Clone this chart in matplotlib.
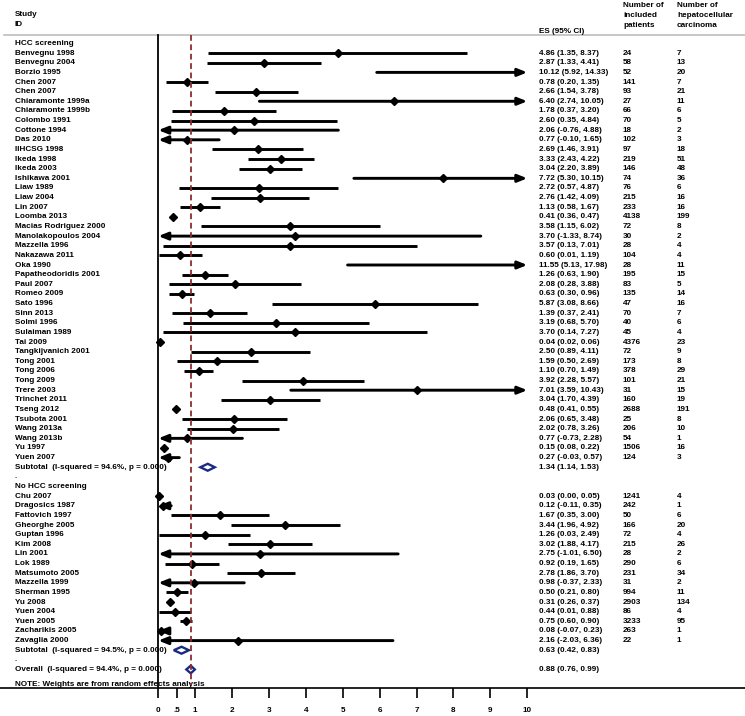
import matplotlib
matplotlib.use("Agg")
import matplotlib.pyplot as plt
from matplotlib.transforms import blended_transform_factory

plt.rcParams["font.family"] = ["Liberation Sans", "DejaVu Sans"]
plt.rcParams["font.weight"] = "bold"

# HCC screening group
screen_names = ["Benvegnu 1998", "Benvegnu 2004", "Borzio 1995", "Chen 2007", "Chen 2007",
                "Chiaramonte 1999a", "Chiaramonte 1999b", "Colombo 1991", "Cottone 1994", "Das 2010",
                "IIHCSG 1998", "Ikeda 1998", "Ikeda 2003", "Ishikawa 2001", "Liaw 1989", "Liaw 2004",
                "Lin 2007", "Loomba 2013", "Macias Rodriguez 2000", "Manolakopoulos 2004",
                "Mazzella 1996", "Nakazawa 2011", "Oka 1990", "Papatheodoridis 2001", "Paul 2007",
                "Romeo 2009", "Sato 1996", "Sinn 2013", "Solmi 1996", "Sulaiman 1989", "Tai 2009",
                "Tangkijvanich 2001", "Tong 2001", "Tong 2006", "Tong 2009", "Trere 2003",
                "Trinchet 2011", "Tseng 2012", "Tsubota 2001", "Wang 2013a", "Wang 2013b",
                "Yu 1997", "Yuen 2007"]
screen_es = [4.86, 2.87, 10.12, 0.78, 2.66, 6.40, 1.78, 2.60, 2.06, 0.77, 2.69, 3.33, 3.04, 7.72,
             2.72, 2.76, 1.13, 0.41, 3.58, 3.70, 3.57, 0.60, 11.55, 1.26, 2.08, 0.63, 5.87, 1.39,
             3.19, 3.70, 0.04, 2.50, 1.59, 1.10, 3.92, 7.01, 3.04, 0.48, 2.06, 2.02, 0.77, 0.15, 0.27]
screen_lo = [1.35, 1.33, 5.92, 0.20, 1.54, 2.74, 0.37, 0.35, -0.76, -0.10, 1.46, 2.43, 2.20, 5.30,
             0.57, 1.42, 0.58, 0.36, 1.15, -1.33, 0.13, 0.01, 5.13, 0.63, 0.28, 0.30, 3.08, 0.37,
             0.68, 0.14, 0.02, 0.89, 0.50, 0.70, 2.28, 3.59, 1.70, 0.41, 0.65, 0.78, -0.73, 0.08, -0.03]
screen_hi = [8.37, 4.41, 14.33, 1.35, 3.78, 10.05, 3.20, 4.84, 4.88, 1.65, 3.91, 4.22, 3.89, 10.15,
             4.87, 4.09, 1.67, 0.47, 6.02, 8.74, 7.01, 1.19, 17.98, 1.90, 3.88, 0.96, 8.66, 2.41,
             5.70, 7.27, 0.06, 4.11, 2.69, 1.49, 5.57, 10.43, 4.39, 0.55, 3.48, 3.26, 2.28, 0.22, 0.57]
screen_pat = [24, 58, 52, 141, 93, 27, 66, 70, 18, 102, 97, 219, 146, 74, 76, 215, 233, 4138, 72, 30,
              28, 104, 28, 195, 83, 135, 47, 70, 40, 45, 4376, 72, 173, 378, 101, 31, 160, 2688, 25,
              206, 54, 1506, 124]
screen_hcc = [7, 13, 20, 7, 21, 11, 6, 5, 2, 3, 18, 51, 48, 36, 6, 16, 16, 199, 8, 2, 4, 4, 11, 15, 5,
              14, 16, 7, 6, 4, 23, 9, 8, 29, 21, 15, 19, 191, 8, 10, 1, 16, 3]
screen_sub = (1.34, 1.14, 1.53, "94.6%")

# No HCC screening group
noscreen_names = ["Chu 2007", "Dragosics 1987", "Fattovich 1997", "Gheorghe 2005", "Guptan 1996",
                  "Kim 2008", "Lin 2001", "Lok 1989", "Matsumoto 2005", "Mazzella 1999",
                  "Sherman 1995", "Yu 2008", "Yuen 2004", "Yuen 2005", "Zacharikis 2005", "Zavaglia 2000"]
noscreen_es = [0.03, 0.12, 1.67, 3.44, 1.26, 3.02, 2.75, 0.92, 2.78, 0.98, 0.50, 0.31, 0.44, 0.75, 0.08, 2.16]
noscreen_lo = [0.00, -0.11, 0.35, 1.96, 0.03, 1.88, -1.01, 0.19, 1.86, -0.37, 0.21, 0.26, 0.01, 0.60, -0.07, -2.03]
noscreen_hi = [0.05, 0.35, 3.00, 4.92, 2.49, 4.17, 6.50, 1.65, 3.70, 2.33, 0.80, 0.37, 0.88, 0.90, 0.23, 6.36]
noscreen_pat = [1241, 242, 50, 166, 72, 215, 28, 290, 231, 31, 994, 2903, 86, 3233, 263, 22]
noscreen_hcc = [4, 1, 6, 20, 4, 26, 2, 6, 34, 2, 11, 134, 4, 95, 1, 1]
noscreen_sub = (0.63, 0.42, 0.83, "94.5%")

overall = (0.88, 0.76, 0.99, "94.4%")

xticks = [0, 0.5, 1, 2, 3, 4, 5, 6, 7, 8, 9, 10]
xticklabels = ["0", ".5", "1", "2", "3", "4", "5", "6", "7", "8", "9", "10"]
XMAX = 10

FS = 5.9
DIAM_COL = "#1c2b82"
REF_COL = "#8b2e2e"
W = 745.0


def ci_text(es, lo, hi):
    return f"{es:.2f} ({lo:.2f}, {hi:.2f})"


fig = plt.figure(figsize=(7.45, 7.16), dpi=100)
ax = fig.add_axes([0, 0, 1, 1])
ax.set_xlim(-4.29, 15.9)
ax.set_ylim(69.83, -4.517)
tr = blended_transform_factory(ax.transAxes, ax.transData)

x_lab, x_es, x_pat, x_hcc = 15 / W, 539 / W, 623 / W, 677 / W


def study_row(y, name, es, lo, hi, pat, hcc):
    ax.text(x_lab, y, name, transform=tr, va="center", fontsize=FS)
    ax.text(x_es, y, ci_text(es, lo, hi), transform=tr, va="center", fontsize=FS)
    ax.text(x_pat, y, str(pat), transform=tr, va="center", fontsize=FS)
    ax.text(x_hcc, y, str(hcc), transform=tr, va="center", fontsize=FS)
    lo_c, hi_c = max(lo, 0), min(hi, XMAX)
    if lo < 0 or hi > XMAX:
        style = {(True, True): "<|-|>", (True, False): "<|-", (False, True): "-|>"}[(lo < 0, hi > XMAX)]
        ax.annotate("", xy=(hi_c, y), xytext=(lo_c, y),
                    arrowprops=dict(arrowstyle=style + ",head_length=0.55,head_width=0.22",
                                    lw=2.1, color="black", shrinkA=0, shrinkB=0,
                                    mutation_scale=10), zorder=3)
    else:
        ax.plot([lo_c, hi_c], [y, y], color="black", lw=2.1, solid_capstyle="butt", zorder=3)
    # point estimates beyond the plotted range are not drawn
    if 0 <= es <= XMAX:
        ax.plot(es, y, marker="D", ms=4.0, color="black", zorder=4)


def pooled_row(y, label, es, lo, hi, i2, h=0.36):
    ax.text(x_lab, y, f"{label}  (I-squared = {i2}, p = 0.000)", transform=tr, va="center", fontsize=FS)
    ax.text(x_es, y, ci_text(es, lo, hi), transform=tr, va="center", fontsize=FS)
    ax.fill([lo, es, hi, es], [y, y - h, y, y + h], facecolor="white", edgecolor=DIAM_COL,
            lw=1.7, zorder=4)


row = 0
ax.text(x_lab, row, "HCC screening", transform=tr, va="center", fontsize=FS)
row += 1
for i in range(len(screen_names)):
    study_row(row, screen_names[i], screen_es[i], screen_lo[i], screen_hi[i], screen_pat[i], screen_hcc[i])
    row += 1
pooled_row(row, "Subtotal", *screen_sub)
row += 1
ax.text(x_lab, row, ".", transform=tr, va="center", fontsize=FS)
row += 1
ax.text(x_lab, row, "No HCC screening", transform=tr, va="center", fontsize=FS)
row += 1
for i in range(len(noscreen_names)):
    study_row(row, noscreen_names[i], noscreen_es[i], noscreen_lo[i], noscreen_hi[i],
              noscreen_pat[i], noscreen_hcc[i])
    row += 1
pooled_row(row, "Subtotal", *noscreen_sub)
row += 1
ax.text(x_lab, row, ".", transform=tr, va="center", fontsize=FS)
row += 1
pooled_row(row, "Overall", *overall, h=0.4)
note_y = row + 1.6
axis_y = row + 1.9
ax.text(x_lab, note_y, "NOTE: Weights are from random effects analysis", transform=tr,
        va="center", fontsize=FS)

# header
top_y = -0.88
ax.text(x_lab, -2.96, "Study", transform=tr, va="center", fontsize=FS)
ax.text(x_lab, -1.97, "ID", transform=tr, va="center", fontsize=FS)
ax.text(x_es, -1.23, "ES (95% CI)", transform=tr, va="center", fontsize=FS)
for yy, a, b in zip([-3.93, -2.93, -1.92], ["Number of", "included", "patients"],
                    ["Number of", "hepatocellular", "carcinoma"]):
    ax.text(x_pat, yy, a, transform=tr, va="center", fontsize=FS)
    ax.text(x_hcc, yy, b, transform=tr, va="center", fontsize=FS)
ax.axhline(top_y, xmin=4 / W, xmax=1, color="#b8b8b8", lw=1.1)

# null line and overall reference line
ax.plot([0, 0], [top_y, axis_y], color="black", lw=1.3, zorder=2)
ax.plot([overall[0], overall[0]], [top_y, note_y], color=REF_COL, lw=1.3,
        dashes=(3.2, 2.0), zorder=5)

# x axis
for s in ["top", "left", "right"]:
    ax.spines[s].set_visible(False)
ax.spines["bottom"].set_position(("data", axis_y))
ax.spines["bottom"].set_linewidth(1.2)
ax.set_xticks(xticks)
ax.set_xticklabels(xticklabels)
ax.tick_params(axis="x", direction="out", length=7.5, width=1.2, pad=6, labelsize=FS)
ax.set_yticks([])

fig.savefig("out.png", dpi=100)
